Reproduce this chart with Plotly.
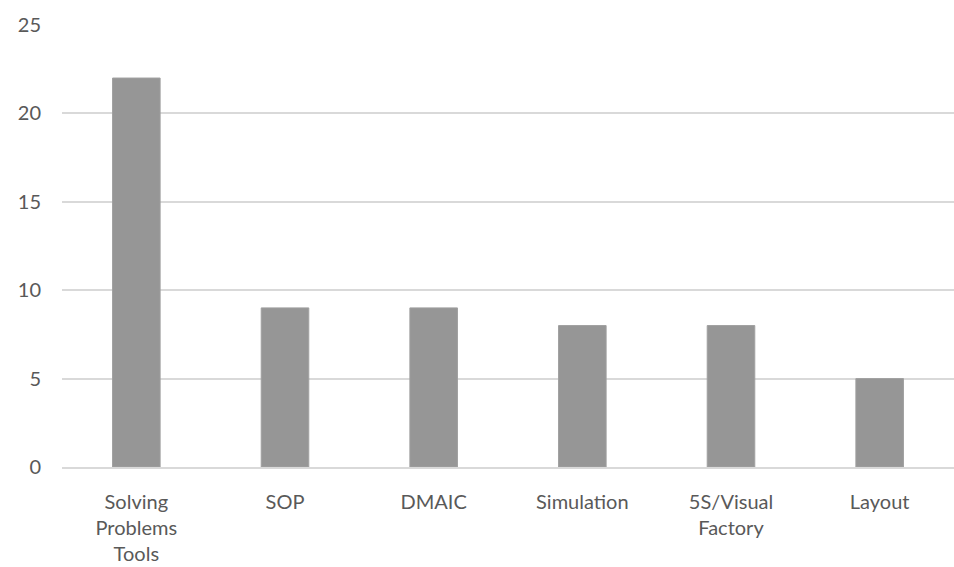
import plotly.graph_objects as go

categories = ["Solving<br>Problems<br>Tools", "SOP", "DMAIC", "Simulation", "5S/Visual<br>Factory", "Layout"]
values = [22, 9, 9, 8, 8, 5]
y_ticks = [0, 5, 10, 15, 20, 25]

fig = go.Figure(go.Bar(
    x=categories, y=values,
    marker=dict(color="#969696", line=dict(color="#a0a0a0", width=1)),
    width=0.32,
))
fig.update_layout(
    width=954, height=567,
    margin=dict(l=62, r=0, t=25, b=100),
    paper_bgcolor="white", plot_bgcolor="white",
    font=dict(family="Lato, Open Sans, sans-serif", size=20, color="#595959"),
    showlegend=False,
    xaxis=dict(showgrid=False, showline=True, linecolor="#d9d9d9", linewidth=2,
               ticks="", ticklabelstandoff=16, tickangle=0),
    yaxis=dict(range=[0, 25], tickvals=y_ticks, showgrid=True, gridcolor="#d9d9d9",
               gridwidth=2, zeroline=False, showline=False, ticks="",
               ticklabelstandoff=20),
)
fig.write_html("out.html", config={"displayModeBar": False},
               post_script="document.body.style.margin='0';document.body.style.overflow='hidden';")
